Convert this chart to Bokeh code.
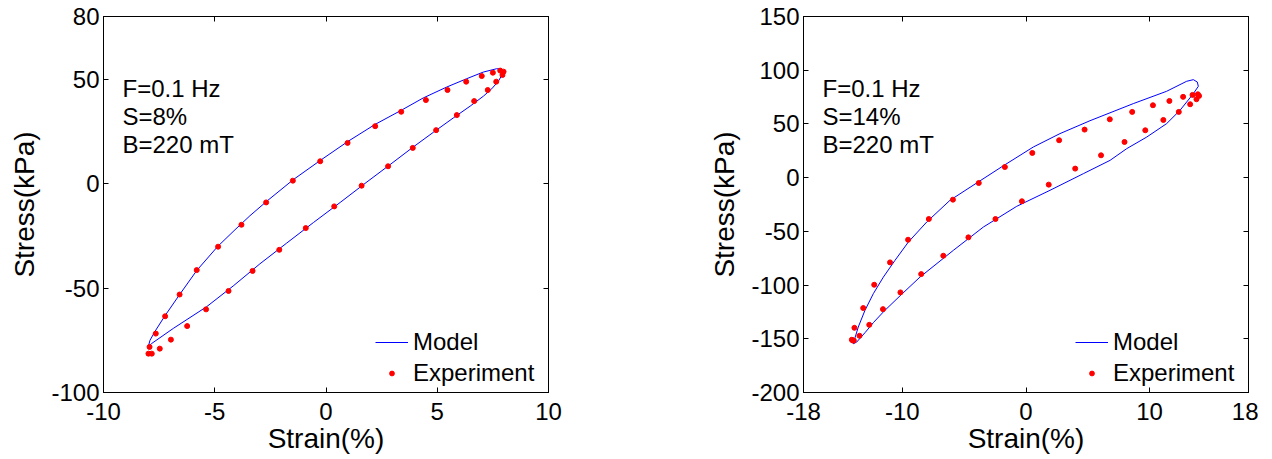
from bokeh.plotting import figure
from bokeh.models import Range1d, LinearAxis, FixedTicker, Label, Legend, LegendItem
from bokeh.layouts import row
from bokeh.embed import file_html
from bokeh.resources import INLINE

FONT = "Liberation Sans"

# ---------------- data: left panel (S=8%) ----------------
left_model_x = [-7.99, -7.91, -7.69, -7.24, -6.59, -5.81, -4.87, -4.09, -3.42, -2.67,
                -1.47, -0.27, 1.00, 2.20, 3.40, 4.37, 5.42, 6.32, 7.07, 7.67,
                7.82, 7.92, 7.75, 7.45, 7.08, 6.48, 5.73, 4.83, 3.93, 2.88,
                1.84, 0.64, -0.56, -1.77, -2.97, -4.17, -5.36, -6.86, -7.83, -7.99]
left_model_y = [-78.1, -75.0, -70.8, -63.3, -53.3, -41.6, -30.1, -22.1, -15.4, -8.5,
                1.9, 11.0, 20.3, 28.3, 35.2, 41.0, 46.2, 50.2, 53.4, 55.0,
                54.9, 52.2, 49.1, 45.4, 41.9, 37.1, 31.5, 24.6, 17.6, 9.1,
                0.8, -9.0, -18.6, -28.5, -38.4, -49.0, -58.9, -69.3, -76.5, -78.1]
left_exp_x = [-7.93, -7.65, -7.23, -6.58, -5.81, -4.85, -3.80, -2.69, -1.49, -0.26,
              0.97, 2.21, 3.38, 4.49, 5.46, 6.30, 7.00, 7.50, 7.83, 7.98,
              7.93, 7.65, 7.27, 6.66, 5.88, 4.95, 3.90, 2.79, 1.60, 0.37,
              -0.91, -2.10, -3.30, -4.38, -5.39, -6.24, -6.97, -7.47, -7.83, -7.98]
left_exp_y = [-78.2, -71.8, -63.5, -53.1, -41.4, -30.2, -19.7, -9.0, 1.4, 10.7,
              19.5, 27.5, 34.4, 40.0, 44.8, 48.8, 51.5, 53.1, 54.1, 53.6,
              52.0, 48.8, 44.8, 39.5, 32.8, 25.6, 17.1, 8.3, -1.0, -10.9,
              -21.3, -31.7, -41.8, -51.4, -60.2, -68.2, -74.7, -79.0, -81.4, -81.4]
left_xticks = [-10, -5, 0, 5, 10]
left_yticks = [-100, -50, 0, 50, 80]
left_text = ["F=0.1 Hz", "S=8%", "B=220 mT"]

# ---------------- data: right panel (S=14%) ----------------
right_model_x = [-13.97, -13.83, -13.57, -13.03, -12.35, -11.54, -10.60, -9.52, -8.03, -6.15,
                 -3.99, -1.84, 0.59, 2.75, 5.18, 8.68, 11.38, 13.00, 13.54, 13.86,
                 13.94, 13.54, 12.46, 11.38, 9.77, 8.15, 6.80, 4.64, 1.94, -0.75,
                 -3.45, -5.88, -8.58, -10.19, -11.50, -12.35, -13.00, -13.70, -13.97]
right_model_y = [-154.6, -149.0, -139.1, -123.6, -108.0, -92.6, -77.0, -60.0, -41.3, -21.1,
                 -5.0, 11.0, 28.5, 41.0, 53.0, 68.9, 80.4, 89.7, 91.2, 89.0,
                 85.0, 78.2, 62.7, 50.3, 37.8, 27.0, 16.1, 3.7, -11.8, -26.7,
                 -46.0, -67.7, -92.6, -110.0, -124.5, -135.0, -144.0, -153.1, -154.6]
right_exp_x = [-14.01, -13.88, -13.17, -12.28, -11.00, -9.54, -7.86, -5.91, -3.82, -1.71,
               0.51, 2.68, 4.74, 6.78, 8.59, 10.27, 11.60, 12.71, 13.47, 13.90,
               14.00, 13.79, 13.28, 12.36, 11.11, 9.65, 7.97, 6.07, 3.98, 1.84,
               -0.33, -2.47, -4.66, -6.69, -8.48, -10.16, -11.57, -12.68, -13.47, -13.93, -14.09]
right_exp_y = [-151.6, -139.8, -121.4, -99.7, -78.9, -57.8, -38.5, -20.5, -5.0, 9.9,
               23.0, 34.8, 44.7, 54.3, 61.2, 67.4, 71.4, 75.2, 77.0, 77.6,
               76.1, 73.0, 68.3, 61.2, 53.7, 44.1, 33.2, 20.8, 8.4, -6.5,
               -22.0, -38.5, -55.6, -72.7, -89.8, -106.8, -122.4, -137.0, -147.2, -151.6, -150.9]
right_xticks = [-18, -10, 0, 10, 18]
right_yticks = [-200, -150, -100, -50, 0, 50, 100, 150]
right_text = ["F=0.1 Hz", "S=14%", "B=220 mT"]

legend_labels = ["Model", "Experiment"]
x_label = "Strain(%)"
y_label = "Stress(kPa)"


def style_axis(ax, ticks, show_labels, standoff):
    ax.ticker = FixedTicker(ticks=ticks)
    ax.major_tick_in = 5
    ax.major_tick_out = 0
    ax.minor_tick_line_color = None
    ax.major_tick_line_color = "black"
    ax.axis_line_color = "black"
    ax.axis_line_width = 1
    ax.major_label_standoff = standoff
    if show_labels:
        ax.major_label_overrides = {t: str(t) for t in ticks}
        ax.major_label_text_font = FONT
        ax.major_label_text_font_size = "24px"
        ax.major_label_text_color = "black"
    else:
        ax.major_label_overrides = {t: "" for t in ticks}
        ax.major_label_text_font_size = "0px"


def make_panel(xr, yr, xticks, yticks, mx, my, ex, ey, texts, width, mbr):
    p = figure(width=width, height=456,
               x_range=Range1d(xr[0], xr[1]), y_range=Range1d(yr[0], yr[1]),
               output_backend="svg", toolbar_location=None,
               min_border_left=103, min_border_right=mbr,
               min_border_top=16, min_border_bottom=64,
               x_axis_label=x_label, y_axis_label=y_label)
    p.grid.visible = False
    p.outline_line_color = "black"
    p.outline_line_width = 1
    p.background_fill_color = "white"
    p.border_fill_color = "white"

    xa = p.xaxis[0]
    ya = p.yaxis[0]
    style_axis(xa, xticks, True, 10)
    style_axis(ya, yticks, True, 4)
    for ax in (xa, ya):
        ax.axis_label_text_font = FONT
        ax.axis_label_text_font_size = "28px"
        ax.axis_label_text_font_style = "normal"
        ax.axis_label_text_color = "black"
    xa.axis_label_standoff = 0
    ya.axis_label_standoff = 8

    top = LinearAxis()
    style_axis(top, xticks, False, 0)
    p.add_layout(top, "above")
    rgt = LinearAxis()
    style_axis(rgt, yticks, False, 0)
    p.add_layout(rgt, "right")

    r_line = p.line(mx, my, line_color="#0000FF", line_width=1)
    r_pts = p.scatter(ex, ey, size=5, marker="circle", fill_color="#FF0000", line_color="#FF0000")

    legend = Legend(items=[LegendItem(label=legend_labels[0], renderers=[r_line]),
                           LegendItem(label=legend_labels[1], renderers=[r_pts])],
                    location=(272, 4), border_line_color=None, background_fill_alpha=0,
                    padding=0, margin=0, spacing=0, glyph_width=33, glyph_height=12,
                    label_height=31, label_standoff=5, label_text_font=FONT,
                    label_text_font_size="24px", label_text_color="black")
    p.add_layout(legend)

    for i, t in enumerate(texts):
        p.add_layout(Label(x=19, y=303.7 - 27.7 * i, x_units="screen", y_units="screen",
                           text=t, text_font=FONT, text_font_size="24px",
                           text_color="black", text_baseline="alphabetic"))
    return p


p1 = make_panel((-10, 10), (-100, 80), left_xticks, left_yticks,
                left_model_x, left_model_y, left_exp_x, left_exp_y, left_text, 700, 152)
p2 = make_panel((-18, 18), (-200, 150), right_xticks, right_yticks,
                right_model_x, right_model_y, right_exp_x, right_exp_y, right_text, 558, 10)

layout = row(p1, p2)
open("out.html", "w").write(file_html(layout, INLINE))
